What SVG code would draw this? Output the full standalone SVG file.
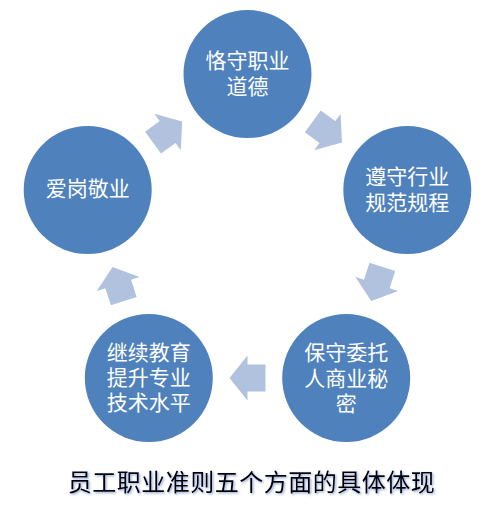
<svg xmlns="http://www.w3.org/2000/svg" width="494" height="506" viewBox="0 0 494 506">
<defs>
<style>
.node{fill:#4F81BD;}
.lbl{fill:#FFFFFF;font-family:"Noto Sans CJK SC","Noto Sans",sans-serif;font-size:21px;text-anchor:middle;}
.arr{fill:#B1C2DE;}
.cap{fill:#000000;font-family:"Noto Sans CJK SC","Noto Sans",sans-serif;font-size:24px;text-anchor:middle;letter-spacing:0.5px;}
</style>
<path id="ar" d="M-18,-13.5 L0,-13.5 L0,-22.5 L18,0 L0,22.5 L0,13.5 L-18,13.5 Z"/>
<filter id="sh" x="-5%" y="-30%" width="110%" height="160%">
<feDropShadow dx="1.2" dy="1.2" stdDeviation="0.8" flood-color="#3050A0" flood-opacity="0.55"/>
</filter>
</defs>
<rect width="494" height="506" fill="#FFFFFF"/>
<g id="connectors">
<use href="#ar" class="arr" transform="translate(327.4,132) rotate(36)"/>
<use href="#ar" class="arr" transform="translate(376.8,284) rotate(108)"/>
<use href="#ar" class="arr" transform="translate(247.5,378) rotate(180)"/>
<use href="#ar" class="arr" transform="translate(118.2,284) rotate(252)"/>
<use href="#ar" class="arr" transform="translate(167.6,132) rotate(324)"/>
</g>
<g id="node1">
<circle class="node" cx="247.5" cy="74" r="64"/>
<text class="lbl" x="247.5" y="68"><tspan x="247.5">恪守职业</tspan><tspan x="247.5" dy="26">道德</tspan></text>
</g>
<g id="node2">
<circle class="node" cx="407.3" cy="190" r="64"/>
<text class="lbl" x="407.3" y="184"><tspan x="407.3">遵守行业</tspan><tspan x="407.3" dy="26">规范规程</tspan></text>
</g>
<g id="node3">
<circle class="node" cx="346.2" cy="378" r="64"/>
<text class="lbl" x="346.2" y="360"><tspan x="346.2">保守委托</tspan><tspan x="346.2" dy="26">人商业秘</tspan><tspan x="346.2" dy="25">密</tspan></text>
</g>
<g id="node4">
<circle class="node" cx="148.8" cy="378" r="64"/>
<text class="lbl" x="148.8" y="360"><tspan x="148.8">继续教育</tspan><tspan x="148.8" dy="25">提升专业</tspan><tspan x="148.8" dy="25">技术水平</tspan></text>
</g>
<g id="node5">
<circle class="node" cx="87.7" cy="190" r="64"/>
<text class="lbl" x="87.7" y="196">爱岗敬业</text>
</g>
<g id="caption">
<text class="cap" x="251.5" y="491" filter="url(#sh)">员工职业准则五个方面的具体体现</text>
</g>
</svg>
